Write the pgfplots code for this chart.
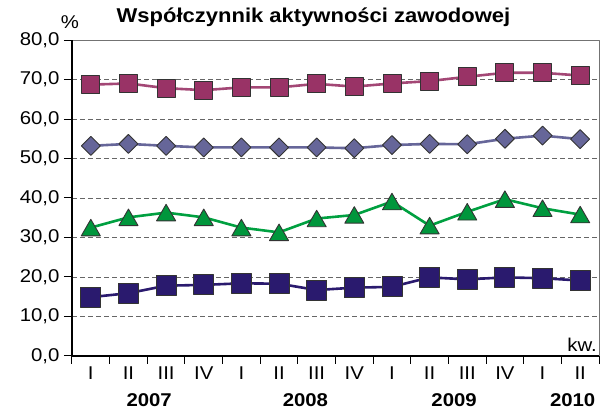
\documentclass[border=0pt]{standalone}
\usepackage{pgfplots}
\pgfplotsset{compat=1.18}
\usepackage{fontspec}
\setmainfont{Liberation Sans}[FakeStretch=1.1]

\definecolor{cMaroon}{HTML}{993366}
\definecolor{cLav}{HTML}{666699}
\definecolor{cGreen}{HTML}{00963C}
\definecolor{cGreenL}{HTML}{00A040}
\definecolor{cNavy}{HTML}{2A1A6E}

\pgfplotstableread{
x  maroon lav  green navy
0  68.7  53.2  32.5  14.9
1  69.0  53.7  35.1  15.9
2  67.8  53.2  36.3  17.8
3  67.3  52.8  35.1  18.0
4  68.0  52.8  32.5  18.4
5  68.0  52.8  31.3  18.3
6  68.9  52.8  34.8  16.7
7  68.2  52.6  35.7  17.3
8  69.0  53.4  39.1  17.5
9  69.6  53.7  33.0  19.9
10 70.7  53.6  36.5  19.4
11 71.7  55.0  39.7  19.9
12 71.7  55.8  37.4  19.7
13 71.0  54.9  35.8  19.1
}\datatable

\begin{document}
\begin{tikzpicture}[line join=round]
\useasboundingbox (-72pt,-58pt) rectangle (536pt,356pt);
\begin{axis}[
    anchor=south west, at={(0,0)},
    scale only axis,
    width=527pt, height=316pt,
    xmin=-0.5, xmax=13.5,
    ymin=0, ymax=80,
    ytick={0,10,...,80},
    xtick={-0.5,0.5,...,13.5},
    xticklabels={I,II,III,IV,I,II,III,IV,I,II,III,IV,I,II,{}},
    xticklabel style={xshift=18.8pt, yshift=1pt},
    tick pos=left,
    tick align=outside,
    major tick length=8pt,
    tick style={black, line width=1pt},
    yticklabel style={xshift=-1pt, /pgf/number format/fixed, /pgf/number format/fixed zerofill,
      /pgf/number format/precision=1, /pgf/number format/use comma, /pgf/number format/assume math mode=true},
    ticklabel style={font=\fontsize{18.5}{20}\selectfont},
    ymajorgrids,
    grid style={black!60, line width=0.9pt, dash pattern=on 5pt off 3pt},
    axis line style={draw=black!55, line width=1pt},
    clip=false,
]
\addplot[cMaroon!90!white, line width=2.6pt, mark=square*, mark size=9pt,
  mark options={fill=cMaroon, draw=black!80, line width=0.9pt}]
  table[x=x, y=maroon] {\datatable};
\addplot[cLav, line width=2.6pt, mark=square*, mark size=6.7pt,
  mark options={rotate=45, fill=cLav, draw=black!80, line width=0.9pt}]
  table[x=x, y=lav] {\datatable};
\addplot[cGreenL, line width=2.6pt, mark=triangle*, mark size=11pt,
  mark options={yshift=-2.7pt, fill=cGreen, draw=black!80, line width=0.9pt}]
  table[x=x, y=green] {\datatable};
\addplot[cNavy, line width=2.6pt, mark=square*, mark size=10pt,
  mark options={fill=cNavy, draw=black!80, line width=0.9pt}]
  table[x=x, y=navy] {\datatable};

\draw[black, line width=1.2pt] (rel axis cs:0,1) -- (rel axis cs:0,0) -- (rel axis cs:1,0);

\node[anchor=base, font=\fontsize{20}{22}\bfseries\selectfont] at ([xshift=-22pt, yshift=18pt]rel axis cs:0.5,1) {Współczynnik aktywności zawodowej};
\node[anchor=base, inner sep=0pt, font=\fontsize{18.5}{20}\selectfont] at ([xshift=-2pt, yshift=12pt]rel axis cs:0,1) {\%};
\node[anchor=east, inner sep=0pt, font=\fontsize{18.5}{20}\selectfont] at ([xshift=-2pt, yshift=11pt]rel axis cs:1,0) {kw.};
\node[font=\fontsize{18.5}{20}\bfseries\selectfont] at ([yshift=-44pt]axis cs:1.55,0) {2007};
\node[font=\fontsize{18.5}{20}\bfseries\selectfont] at ([yshift=-44pt]axis cs:5.7,0) {2008};
\node[font=\fontsize{18.5}{20}\bfseries\selectfont] at ([yshift=-44pt]axis cs:9.65,0) {2009};
\node[font=\fontsize{18.5}{20}\bfseries\selectfont] at ([yshift=-44pt]axis cs:12.8,0) {2010};
\end{axis}
\end{tikzpicture}
\end{document}
